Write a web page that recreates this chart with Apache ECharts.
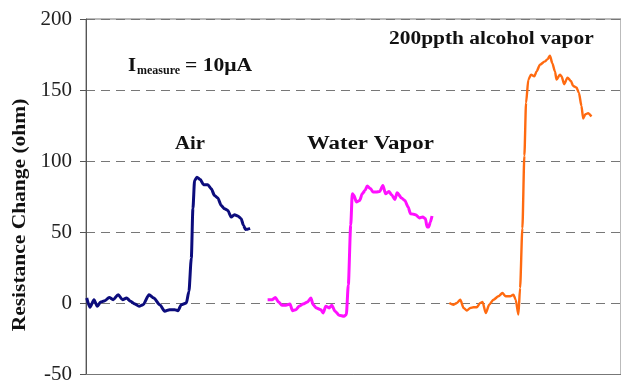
<!DOCTYPE html>
<html>
<head>
<meta charset="utf-8">
<script src="https://cdn.jsdelivr.net/npm/echarts@6/dist/echarts.min.js"></script>
<style>html,body{margin:0;padding:0;background:#fff}#c{width:621px;height:385px}</style>
</head>
<body>
<div id="c"></div>
<script>
// Data (x = elapsed time units, y = resistance change in ohm)
var yTicks = [-50, 0, 50, 100, 150, 200];
var airX = [0.7,4,8,11.3,14.7,19,23.3,27.3,32.3,36.7,40.7,44.7,49,53.3,57.3,63.3,68,74,79,84,89,92.3,95.7,100.7,103.3,105.7,107.3,109,111.3,114.7,118,122.3,125.7,129,132.3,135.7,139,142.3,145.7,149,152.3,155.7,158,160,162.3,164.7];
var airY = [3.8,-2.7,2.6,-2,1,1.9,4.2,2.6,6.1,2.6,3.8,1.5,-0.4,-2,-0.9,6.1,3.8,-0.9,-5.5,-4.4,-4.4,-5.1,-0.9,0.3,8.4,31.7,66.6,86.4,88.8,87.1,83.4,83.4,80.6,75.9,74.1,68.9,66.6,65.4,60.8,62.4,61.5,59.6,55,52,52.2,52.7];
var waterX = [182.3,186.7,190,193.3,196.7,200.7,204.7,207.3,210.7,214,218,222.3,225.7,228,231.3,235.7,238,240.7,244,246.7,250,254,259,261.3,263.3,265.7,267.3,269,271.3,274.7,277.3,280,282.3,285.7,288,291.3,294.7,298,300.7,304,306.7,310,312.3,316.7,320,323.3,325.7,330.7,334.7,338,340.7,342.3,344,345.7,347.3];
var waterY = [2.6,2.6,4.2,1,-1.3,-1.3,-0.4,-5.1,-4.4,-2,-0.4,1,3.8,-0.9,-3.2,-4.4,-6.7,-2,-3.2,-1.3,-5.5,-8.3,-9,-7.9,13,55,77.1,75.9,71.3,72.4,77.1,79.4,82.5,80.6,78.3,78.3,78.7,82.9,77.1,78.7,76.4,73.1,77.8,74.1,72.4,67.8,63.1,62.4,60.1,60.8,59.6,53.8,53.8,57.3,61.5];
var alcoholX = [364.7,369,372.3,375.7,379,382.3,385.7,389,392.3,395.7,398,401.3,404.7,409,414,418,421.3,425.7,429,431.3,434,435.7,438,440,441.7,444,446.7,450,452.3,455.7,460.7,463.3,465.7,468,470.7,472.3,475.7,477.3,480,483.3,486.7,489,492.3,494.7,497.3,499,501.3,504,507.3];
var alcoholY = [0.3,-0.9,0.3,2.6,-3.2,-5.1,-3.2,-2.7,-2.7,0.3,1,-6.7,-0.9,2.6,5,7.3,5,5,6.1,2.6,-7.9,10.8,52.7,103.8,141.1,157.4,160.9,159.7,163.2,167.9,170.2,171.8,174.2,169,163.2,157.4,160.9,159.7,154.1,158.8,156.4,152.9,151.8,148.2,138.9,130,133,133.7,131.4];
var labels = ['Air', 'Water Vapor', '200ppth alcohol vapor'];

function zip(xs, ys) { return xs.map(function (x, i) { return [x, ys[i]]; }); }

var serif = '"Liberation Serif", "Times New Roman", serif';
var chart = echarts.init(document.getElementById('c'), null, {renderer: 'canvas'});
function lineSeries(name, xs, ys, color, w) {
  return {
    name: name, type: 'line', data: zip(xs, ys), showSymbol: false, smooth: 0.25,
    smoothMonotone: 'x',
    lineStyle: {color: color, width: w}, itemStyle: {color: color}, z: 3
  };
}
function label(text, x, y, size, sx) {
  return {type: 'text', x: x, y: y, scaleX: sx,
    style: {text: text, font: 'bold ' + size + 'px ' + serif, fill: '#111', align: 'left', verticalAlign: 'middle'}};
}
chart.setOption({
  animation: false,
  backgroundColor: '#fff',
  grid: {left: 86, right: -2, top: 19, bottom: 8, show: true, borderColor: '#777', borderWidth: 1},
  xAxis: {
    type: 'value', min: 0, max: 537,
    axisLine: {show: true, onZero: false, lineStyle: {color: '#777', width: 1}},
    axisTick: {show: false}, axisLabel: {show: false}, splitLine: {show: false}
  },
  yAxis: {
    type: 'value', min: yTicks[0], max: yTicks[yTicks.length - 1], interval: 50,
    axisLine: {show: true, lineStyle: {color: '#555', width: 1}},
    axisTick: {show: true, inside: false, length: 6, lineStyle: {color: '#555'}},
    axisLabel: {show: true, margin: 14, color: '#222', fontSize: 21, fontFamily: serif},
    splitLine: {show: true, lineStyle: {color: '#777', type: [9, 6], width: 1}}
  },
  series: [
    lineSeries(labels[0], airX, airY, '#0c0c7c', 3),
    lineSeries(labels[1], waterX, waterY, '#ff10ff', 3),
    lineSeries(labels[2], alcoholX, alcoholY, '#ff6a10', 2.4)
  ],
  graphic: [
    {type: 'text', x: 20, y: 215, rotation: Math.PI / 2, scaleX: 1.13,
     style: {text: 'Resistance Change (ohm)', font: 'bold 19px ' + serif, fill: '#111', align: 'center', verticalAlign: 'middle'}},
    label('I', 128, 66, 18, 1.15),
    label('measure', 137, 71, 12, 1.0),
    label('= 10μA', 185, 66, 18, 1.2),
    label(labels[0], 175, 144, 18, 1.15),
    label(labels[1], 307, 144, 18, 1.27),
    label(labels[2], 389, 39, 18, 1.19)
  ]
});
</script>
</body>
</html>
